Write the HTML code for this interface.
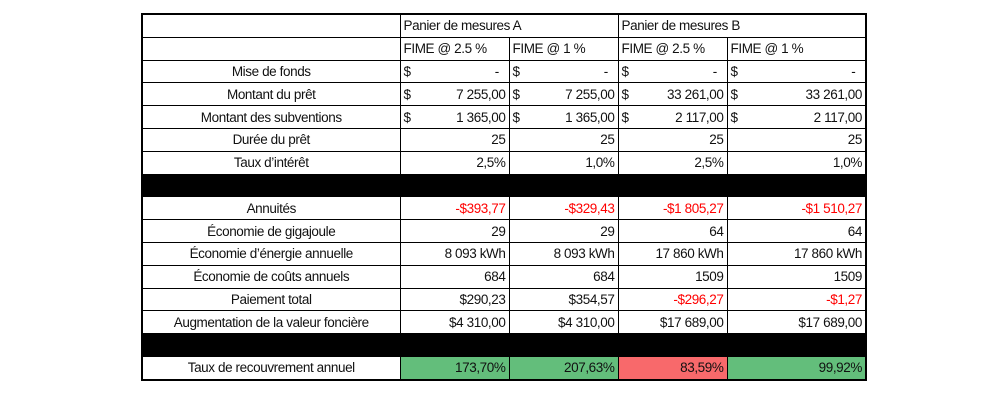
<!DOCTYPE html>
<html><head><meta charset="utf-8"><style>
body{margin:0;width:1000px;height:402px;background:#fff;overflow:hidden}
table{position:absolute;left:141px;top:13px;border-collapse:collapse;border:2px solid #000;font-family:"Liberation Sans",sans-serif;font-size:13.5px;letter-spacing:-0.4px;color:#111;table-layout:fixed}
td{border:1px solid #000;height:21.8px;padding:0 3px;white-space:nowrap;line-height:21px;overflow:hidden}
td.l{text-align:center}
td.r{text-align:right}
.d{display:flex;justify-content:space-between}
.red{color:#f00}
.blk td{background:#000}
.g{background:#63be7b}
.p{background:#f8696b}
</style></head><body>
<table>
<colgroup><col style="width:258px"><col style="width:109px"><col style="width:109px"><col style="width:109px"><col style="width:139px"></colgroup>
<tr><td></td><td colspan="2">Panier de mesures A</td><td colspan="2">Panier de mesures B</td></tr>
<tr><td></td><td>FIME @ 2.5 %</td><td>FIME @ 1 %</td><td>FIME @ 2.5 %</td><td>FIME @ 1 %</td></tr>
<tr><td class="l">Mise de fonds</td><td><div class="d"><span>$</span><span>-&nbsp;&nbsp;</span></div></td><td><div class="d"><span>$</span><span>-&nbsp;&nbsp;</span></div></td><td><div class="d"><span>$</span><span>-&nbsp;&nbsp;</span></div></td><td><div class="d"><span>$</span><span>-&nbsp;&nbsp;</span></div></td></tr>
<tr><td class="l">Montant du prêt</td><td><div class="d"><span>$</span><span>7 255,00</span></div></td><td><div class="d"><span>$</span><span>7 255,00</span></div></td><td><div class="d"><span>$</span><span>33 261,00</span></div></td><td><div class="d"><span>$</span><span>33 261,00</span></div></td></tr>
<tr><td class="l">Montant des subventions</td><td><div class="d"><span>$</span><span>1 365,00</span></div></td><td><div class="d"><span>$</span><span>1 365,00</span></div></td><td><div class="d"><span>$</span><span>2 117,00</span></div></td><td><div class="d"><span>$</span><span>2 117,00</span></div></td></tr>
<tr><td class="l">Durée du prêt</td><td class="r">25</td><td class="r">25</td><td class="r">25</td><td class="r">25</td></tr>
<tr><td class="l">Taux d’intérêt</td><td class="r">2,5%</td><td class="r">1,0%</td><td class="r">2,5%</td><td class="r">1,0%</td></tr>
<tr class="blk"><td></td><td></td><td></td><td></td><td></td></tr>
<tr><td class="l">Annuités</td><td class="r red">-$393,77</td><td class="r red">-$329,43</td><td class="r red">-$1 805,27</td><td class="r red">-$1 510,27</td></tr>
<tr><td class="l">Économie de gigajoule</td><td class="r">29</td><td class="r">29</td><td class="r">64</td><td class="r">64</td></tr>
<tr><td class="l">Économie d’énergie annuelle</td><td class="r">8 093 kWh</td><td class="r">8 093 kWh</td><td class="r">17 860 kWh</td><td class="r">17 860 kWh</td></tr>
<tr><td class="l">Économie de coûts annuels</td><td class="r">684</td><td class="r">684</td><td class="r">1509</td><td class="r">1509</td></tr>
<tr><td class="l">Paiement total</td><td class="r">$290,23</td><td class="r">$354,57</td><td class="r red">-$296,27</td><td class="r red">-$1,27</td></tr>
<tr><td class="l">Augmentation de la valeur foncière</td><td class="r">$4 310,00</td><td class="r">$4 310,00</td><td class="r">$17 689,00</td><td class="r">$17 689,00</td></tr>
<tr class="blk"><td></td><td></td><td></td><td></td><td></td></tr>
<tr><td class="l">Taux de recouvrement annuel</td><td class="r g">173,70%</td><td class="r g">207,63%</td><td class="r p">83,59%</td><td class="r g">99,92%</td></tr>
</table>
</body></html>
